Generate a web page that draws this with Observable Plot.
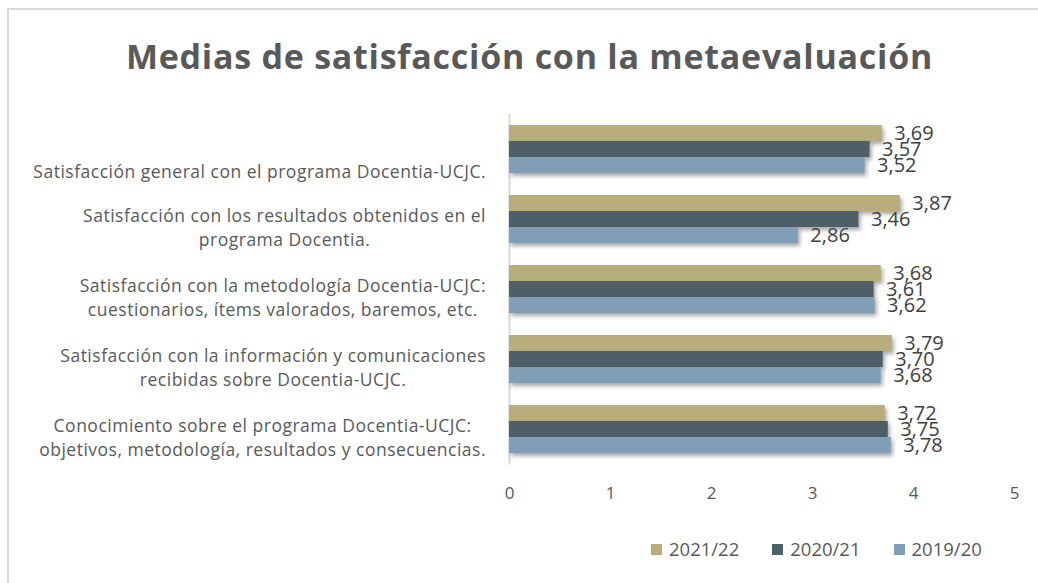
<!DOCTYPE html>
<html><head><meta charset="utf-8">
<script src="https://cdn.jsdelivr.net/npm/d3@7"></script>
<script src="https://cdn.jsdelivr.net/npm/@observablehq/plot@0.6"></script>
<style>
body{margin:0;background:#fff;font-family:"Open Sans",sans-serif;}
#wrap{position:relative;width:1038px;height:583px;overflow:hidden;background:#fff;}
#frame{position:absolute;left:7px;top:8px;width:1100px;height:700px;border:2px solid #d9d9d9;box-sizing:border-box;}
#title{position:absolute;left:0;width:1059px;top:39px;text-align:center;font-size:34px;line-height:34px;font-weight:700;color:#595959;white-space:nowrap;letter-spacing:0.75px;}
#chart{position:absolute;left:0;top:0;}
#legend{position:absolute;top:537px;left:651px;display:flex;align-items:center;font-size:18.5px;line-height:24px;color:#595959;white-space:nowrap;}
#legend .it{display:flex;align-items:center;margin-right:33px;}
#legend .sw{width:11px;height:11px;margin-right:7px;}
</style></head>
<body>
<div id="wrap">
  <div id="frame"></div>
  <div id="title">Medias de satisfacción con la metaevaluación</div>
  <div id="chart"></div>
  <div id="legend"></div>
</div>
<script>
const categories = [
  "Satisfacción general con el programa Docentia-UCJC.",
  "Satisfacción con los resultados obtenidos en el\nprograma Docentia.",
  "Satisfacción con la metodología Docentia-UCJC:\ncuestionarios, ítems valorados, baremos, etc.",
  "Satisfacción con la información y comunicaciones\nrecibidas sobre Docentia-UCJC.",
  "Conocimiento sobre el programa Docentia-UCJC:\nobjetivos, metodología, resultados y consecuencias."
];
const series = ["2021/22", "2020/21", "2019/20"];
const values2122 = [3.69, 3.87, 3.68, 3.79, 3.72];
const values2021 = [3.57, 3.46, 3.61, 3.70, 3.75];
const values1920 = [3.52, 2.86, 3.62, 3.68, 3.78];
const xTicks = [0, 1, 2, 3, 4, 5];
const colors = ["#b7ad7d", "#4f5f69", "#809fb7"];

const seriesValues = [values2122, values2021, values1920];
const rows = [];
categories.forEach((c, i) => series.forEach((s, j) => rows.push({cat: c, series: s, value: seriesValues[j][i]})));
const fmt = v => d3.format(".2f")(v).replace(".", ",");
const multi = categories.filter(c => c.includes("\n"));
const single = categories.filter(c => !c.includes("\n"));

const plot = Plot.plot({
  width: 1038,
  height: 520,
  marginTop: 113,
  marginBottom: 55,
  marginLeft: 509,
  marginRight: 24,
  style: {fontFamily: "'Open Sans', sans-serif", background: "transparent"},
  x: {domain: [0, 5], axis: null},
  y: {domain: series, padding: 0, axis: null},
  fy: {domain: categories, paddingInner: 0.29, paddingOuter: 0.145, axis: null},
  color: {domain: series, range: colors},
  marks: [
    Plot.ruleX([0], {stroke: "#d9d9d9", strokeWidth: 2, insetTop: -10.5, insetBottom: -10.5}),
    Plot.barX(rows, {fy: "cat", y: "series", x: "value", fill: "series"}),
    Plot.text(rows, {fy: "cat", y: "series", x: "value", text: d => fmt(d.value), textAnchor: "start", dx: 12, dy: 0, fontSize: 20, fill: "#404040"}),
    Plot.text(multi, {fy: d => d, frameAnchor: "left", text: d => d, textAnchor: "middle", lineAnchor: "middle", lineHeight: 1.33, dy: 7, fontSize: 17.5, fill: "#595959"}),
    Plot.text(single, {fy: d => d, frameAnchor: "left", text: d => d, textAnchor: "middle", lineAnchor: "middle", dy: 23, fontSize: 17.5, fill: "#595959"}),
    Plot.axisX({anchor: "bottom", ticks: xTicks, tickSize: 0, tickPadding: 32, fontSize: 17, color: "#595959", tickFormat: d => String(d), label: null})
  ]
});
document.getElementById("chart").appendChild(plot);

// soft shadow on bars like the original
plot.querySelectorAll("rect").forEach(r => {
  if (colors.includes((r.getAttribute("fill") || "").toLowerCase())) r.style.filter = "drop-shadow(2px 3px 2px rgba(0,0,0,0.35))";
});

// right-align each category block at x=486 with centered lines
const flat = categories.map(c => c.replace(/\n/g, ""));
const svgRect = plot.getBoundingClientRect();
Array.from(plot.querySelectorAll("text")).filter(t => flat.includes(t.textContent)).forEach(t => {
  t.style.letterSpacing = "0.5px";
  const r = t.getBoundingClientRect();
  const shift = 486 - (r.right - svgRect.left);
  const tr = t.getAttribute("transform") || "";
  t.setAttribute("transform", (tr ? tr + " " : "") + `translate(${shift},0)`);
});

// legend
const lg = document.getElementById("legend");
series.forEach((s, i) => {
  const it = document.createElement("div"); it.className = "it";
  const sw = document.createElement("div"); sw.className = "sw"; sw.style.background = colors[i];
  const tx = document.createElement("span"); tx.textContent = s;
  it.appendChild(sw); it.appendChild(tx); lg.appendChild(it);
});
</script>
</body></html>
